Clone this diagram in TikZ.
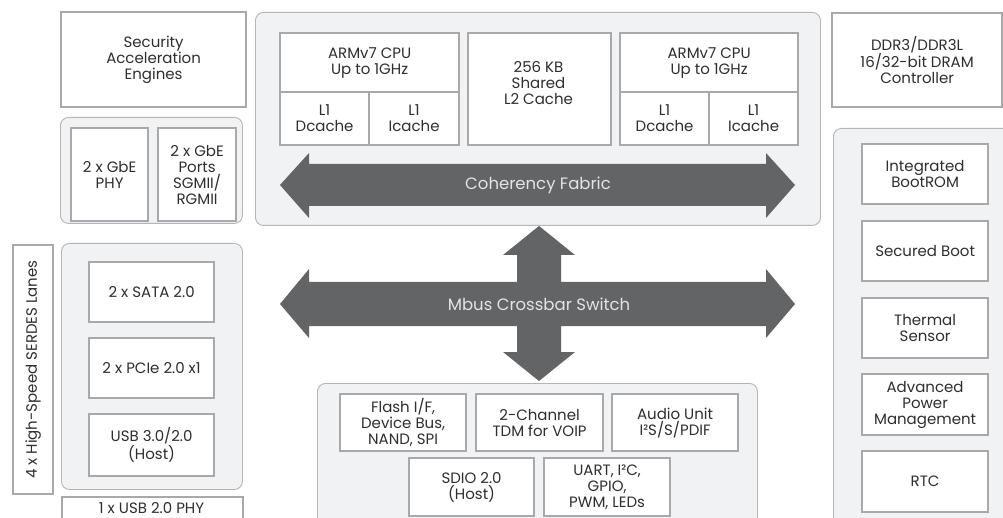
\documentclass[tikz,border=0pt]{standalone}
\usepackage{fontspec}
\setmainfont{Poppins}
\definecolor{boxgray}{HTML}{A7A9AC}
\definecolor{contgray}{HTML}{B3B5B8}
\definecolor{contfill}{HTML}{F1F2F4}
\definecolor{txt}{HTML}{2E2E30}
\definecolor{arrowfill}{HTML}{636466}
\definecolor{arrowtxt}{HTML}{E4E4E6}
\newcommand\lblfont{\fontsize{15}{16}\selectfont}
\tikzset{
  box/.style={draw=boxgray, line width=2.2pt, fill=white, text=txt, align=center, inner sep=0pt,
    font=\lblfont},
  cont/.style={draw=contgray, line width=0.9pt, fill=contfill, rounded corners=8pt, inner sep=0pt},
  bigarrow/.style={fill=arrowfill, draw=none},
  arrowlabel/.style={text=arrowtxt, font=\fontsize{16.5}{18}\selectfont, inner sep=0pt},
  plainlabel/.style={text=txt, align=center, font=\lblfont, inner sep=0pt}
}
\newcommand\B[7][box]{\node[#1, anchor=north west, minimum width={(#5-#3)*1pt}, minimum height={(#6-#4)*1pt}] (#2) at (#3,#4) {#7};}
\begin{document}
\begin{tikzpicture}[x=1pt,y=-1pt]
\useasboundingbox (0,0) rectangle (1003,518);
\clip (0,0) rectangle (1003,518);
% top-left
\B{sec}{60}{11}{245}{106}{Security\\Acceleration\\Engines}
\B[cont]{gbecont}{60}{117}{242}{223}{}
\B{gbephy}{70}{127}{147}{220}{2 x GbE\\PHY}
\B{gbeport}{157}{127}{235}{220}{2 x GbE\\Ports\\SGMII/\\RGMII}
% left column
\B{serdes}{12}{244}{52}{493}{}
\node[plainlabel, rotate=90] (serdestxt) at (serdes.center) {4 x High-Speed SERDES Lanes};
\B[cont]{leftcont}{61}{243}{242}{489}{}
\B{sata}{88}{261}{213}{321}{2 x SATA 2.0}
\B{pcie}{88}{337}{213}{397}{2 x PCIe 2.0 x1}
\B{usb}{88}{413}{213}{475}{USB 3.0/2.0\\(Host)}
\B{usbphy}{61}{496}{242}{540}{}
\node[plainlabel] (usbphytxt) at (151.5,508) {1 x USB 2.0 PHY};
% CPU complex
\B[cont]{cpucont}{255}{12}{820}{225}{}
\B{cpua}{279}{32}{458}{91}{ARMv7 CPU\\Up to 1GHz}
\B{l1da}{279}{91}{368}{144}{L1\\Dcache}
\B{l1ia}{368}{91}{458}{144}{L1\\Icache}
\B{ltwo}{467}{32}{610}{144}{}
\node[plainlabel] (ltwotxt) at (538.5,83) {256 KB\\Shared\\L2 Cache};
\B{cpub}{619}{32}{797}{91}{ARMv7 CPU\\Up to 1GHz}
\B{l1db}{619}{91}{708}{144}{L1\\Dcache}
\B{l1ib}{708}{91}{797}{144}{L1\\Icache}
% coherency fabric arrow
\fill[bigarrow] (280,185) -- (309,153) -- (309,164) -- (766,164) -- (766,153) -- (795,185)
  -- (766,218) -- (766,206) -- (309,206) -- (309,218) -- cycle;
\node[arrowlabel] (coh) at (538,185) {Coherency Fabric};
% right side
\B{ddr}{831}{12}{1001}{106}{DDR3/DDR3L\\16/32-bit DRAM\\Controller}
\B[cont]{rightcont}{833}{128}{1015}{540}{}
\B{bootrom}{861}{143}{987}{203}{Integrated\\BootROM}
\B{secboot}{861}{220}{987}{280}{Secured Boot}
\B{thermal}{861}{297}{987}{357}{Thermal\\Sensor}
\B{power}{861}{373}{987}{434}{Advanced\\Power\\Management}
\B{rtc}{861}{450}{987}{511}{RTC}
% bottom peripherals
\B[cont]{botcont}{317}{383}{757}{540}{}
\B{flash}{339}{393}{465}{450}{Flash I/F,\\Device Bus,\\NAND, SPI}
\B{tdm}{475}{393}{602}{450}{2-Channel\\TDM for VOIP}
\B{audio}{611}{393}{737}{450}{Audio Unit\\I²S/S/PDIF}
\B{sdio}{408}{457}{533}{515}{SDIO 2.0\\(Host)}
\B{uart}{543}{457}{669}{515}{UART, I²C,\\GPIO,\\PWM, LEDs}
% Mbus crossbar
\fill[bigarrow] (280,304) -- (309,269) -- (309,282) -- (517,282) -- (517,255) -- (503,255)
  -- (539,226) -- (575,255) -- (561,255) -- (561,282) -- (766,282) -- (766,269) -- (795,304)
  -- (766,338) -- (766,326) -- (561,326) -- (561,352) -- (575,352) -- (539,381) -- (503,352)
  -- (517,352) -- (517,326) -- (309,326) -- (309,338) -- cycle;
\node[arrowlabel] (mbus) at (539,304) {Mbus Crossbar Switch};
\end{tikzpicture}
\end{document}
